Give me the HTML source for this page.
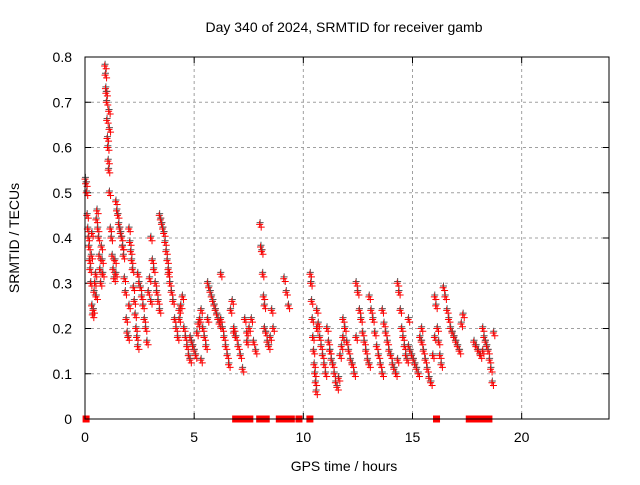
<!DOCTYPE html>
<html><head><meta charset="utf-8"><style>
body{margin:0;background:#fff}
svg text{font-family:"Liberation Sans",sans-serif;font-size:14px;fill:#000}
</style></head><body>
<svg id="chart" width="640" height="480">
<rect width="640" height="480" fill="#fff"/>
<g id="grid"></g>
<g id="ticks"></g>
<g id="marks"></g>
<rect x="85" y="57" width="524" height="362" fill="none" stroke="#000" stroke-width="1"/>
<text x="344" y="32" text-anchor="middle">Day 340 of 2024, SRMTID for receiver gamb</text>
<text x="344" y="471" text-anchor="middle">GPS time / hours</text>
<text transform="translate(19,238) rotate(-90)" text-anchor="middle">SRMTID / TECUs</text>
</svg>
<script>
const xTicks=[0,5,10,15,20];
const yTicks=[0,0.1,0.2,0.3,0.4,0.5,0.6,0.7,0.8];
const clusterStart=[0,0.3,0.5,0.9,1.1,1.4,1.7,2.0,2.4,3.0,3.4,3.8,4.3,4.8,5.3,5.6,6.2,6.8,7.4,8.0,8.2,9.1,10.3,10.6,11.2,11.8,12.4,13.0,13.6,14.3,14.8,15.4,16.0,16.4,17.8,18.2];
const clusterEnd=[0.3,0.5,0.8,1.1,1.4,1.7,2.0,2.4,3.0,3.4,3.8,4.3,4.8,5.3,5.6,6.2,6.8,7.4,7.8,8.2,8.6,9.3,10.6,11.2,11.8,12.4,13.0,13.6,14.3,14.8,15.4,16.0,16.3,17.3,18.2,18.7];
const clusterValues=[
[0.53,0.52,0.5,0.45,0.42,0.40,0.38,0.35,0.33,0.30,0.36,0.41],
[0.25,0.23,0.24,0.28,0.30,0.32,0.27],
[0.44,0.46,0.42,0.40,0.36,0.33,0.30,0.38,0.35,0.32],
[0.78,0.76,0.73,0.72,0.70,0.66,0.62,0.60,0.57,0.55,0.68,0.64],
[0.50,0.42,0.40,0.36,0.33,0.31,0.35,0.32],
[0.48,0.46,0.45,0.43,0.42,0.41,0.40,0.38],
[0.38,0.36,0.31,0.28,0.22,0.19,0.18,0.25],
[0.42,0.39,0.37,0.35,0.33,0.29,0.26,0.23,0.20,0.18,0.16],
[0.32,0.30,0.29,0.27,0.25,0.22,0.20,0.17,0.28,0.31,0.26],
[0.40,0.35,0.33,0.30,0.28,0.26,0.24],
[0.45,0.44,0.43,0.42,0.41,0.39,0.37,0.35,0.32],
[0.33,0.30,0.28,0.26,0.22,0.20,0.18,0.24],
[0.22,0.25,0.27,0.20,0.18,0.16,0.14,0.13],
[0.18,0.17,0.16,0.15,0.14,0.19,0.21,0.22,0.13],
[0.24,0.20,0.18,0.16,0.22],
[0.30,0.29,0.28,0.27,0.26,0.25,0.24,0.23,0.22,0.21,0.32],
[0.22,0.20,0.18,0.16,0.14,0.12,0.24,0.26,0.19],
[0.20,0.18,0.16,0.14,0.11,0.22,0.17],
[0.19,0.20,0.22,0.17,0.15],
[0.43,0.38,0.37,0.32,0.27,0.25],
[0.20,0.19,0.17,0.16,0.18,0.24,0.20],
[0.31,0.28,0.25],
[0.32,0.30,0.26,0.22,0.18,0.15,0.12,0.10,0.08,0.06,0.20],
[0.24,0.21,0.18,0.16,0.14,0.12,0.10,0.20,0.17,0.15],
[0.15,0.13,0.12,0.10,0.08,0.07,0.09,0.14,0.16,0.18],
[0.22,0.20,0.17,0.15,0.13,0.12,0.10,0.18],
[0.30,0.28,0.24,0.22,0.19,0.17,0.15,0.13,0.12],
[0.27,0.24,0.22,0.19,0.16,0.14,0.12,0.10],
[0.24,0.21,0.19,0.17,0.15,0.14,0.12,0.11,0.10,0.13],
[0.30,0.28,0.24,0.20,0.18,0.16,0.14,0.13,0.22],
[0.16,0.15,0.14,0.13,0.12,0.11,0.10,0.18,0.20],
[0.17,0.15,0.13,0.11,0.09,0.08,0.14,0.18],
[0.27,0.25,0.20,0.17,0.14,0.12],
[0.29,0.27,0.24,0.22,0.20,0.19,0.18,0.17,0.16,0.15,0.21,0.23],
[0.17,0.16,0.15,0.14,0.15],
[0.20,0.18,0.17,0.16,0.15,0.13,0.11,0.08,0.19]
];
const zeroTimes=[0.05,6.9,7.0,7.1,7.2,7.45,7.55,8.0,8.1,8.2,8.3,8.9,9.0,9.1,9.2,9.45,9.8,10.3,16.1,17.6,17.7,17.8,17.9,18.2,18.5];

const X0=85,X1=609,Y0=419,Y1=57;
const xs=t=>X0+t/24*(X1-X0);
const ys=v=>Y0-v/0.8*(Y0-Y1);
const NS='http://www.w3.org/2000/svg';
function mk(tag,parent){const e=document.createElementNS(NS,tag);parent.appendChild(e);return e;}
const grid=document.getElementById('grid'),ticks=document.getElementById('ticks'),marks=document.getElementById('marks');

xTicks.forEach(t=>{
  const x=xs(t);
  if(t>0){const l=mk('line',grid);
    
    
    l.setAttribute('x1',x);l.setAttribute('x2',x);l.setAttribute('y1',Y1);l.setAttribute('y2',Y0);
    l.setAttribute('stroke','#a0a0a0');l.setAttribute('stroke-dasharray','3,3');}
  const tk=mk('path',ticks);
  
  
  tk.setAttribute('d',`M${x},${Y0}v-6M${x},${Y1}v6`);tk.setAttribute('stroke','#000');
  const tx=mk('text',ticks);
  
  
  tx.setAttribute('x',x);tx.setAttribute('y',442);tx.setAttribute('text-anchor','middle');tx.textContent=t;
});
yTicks.forEach(v=>{
  const y=ys(v);
  if(v>0&&v<0.8){const l=mk('line',grid);
    
    
    l.setAttribute('x1',X0);l.setAttribute('x2',X1);l.setAttribute('y1',y);l.setAttribute('y2',y);
    l.setAttribute('stroke','#a0a0a0');l.setAttribute('stroke-dasharray','3,3');}
  const tk=mk('path',ticks);
  
  
  tk.setAttribute('d',`M${X0},${y}h6M${X1},${y}h-6`);tk.setAttribute('stroke','#000');
  const tx=mk('text',ticks);
  
  
  tx.setAttribute('x',72);tx.setAttribute('y',y+5);tx.setAttribute('text-anchor','end');
  tx.textContent=v===0?'0':v.toFixed(1);
});
function plus(t,v,color){
  const x=xs(t),y=ys(v);
  const p=mk('path',marks);
  
  
  p.setAttribute('d',`M${x-3.5},${y}h7M${x},${y-3.5}v7`);
  p.setAttribute('stroke',color);p.setAttribute('stroke-width','1');
}
const DUP=0.07;
clusterValues.forEach((vals,i)=>{
  const a=clusterStart[i],b=clusterEnd[i],n=vals.length;
  vals.forEach((v,j)=>{
    const t=a+(b-a)*(n>1?j/(n-1):0.5);
    plus(t+0.02,v+0.004,'#555');
    plus(t,v,'#ff0000');
    plus(t+DUP,v-0.006,'#ff0000');
  });
});
zeroTimes.forEach(t=>{
  const x=xs(t);
  const r=mk('rect',marks);
  
  
  r.setAttribute('x',x-3.5);r.setAttribute('y',Y0-3.5);r.setAttribute('width',7);r.setAttribute('height',7);
  r.setAttribute('fill','#ff0000');
});
</script>
</body></html>
